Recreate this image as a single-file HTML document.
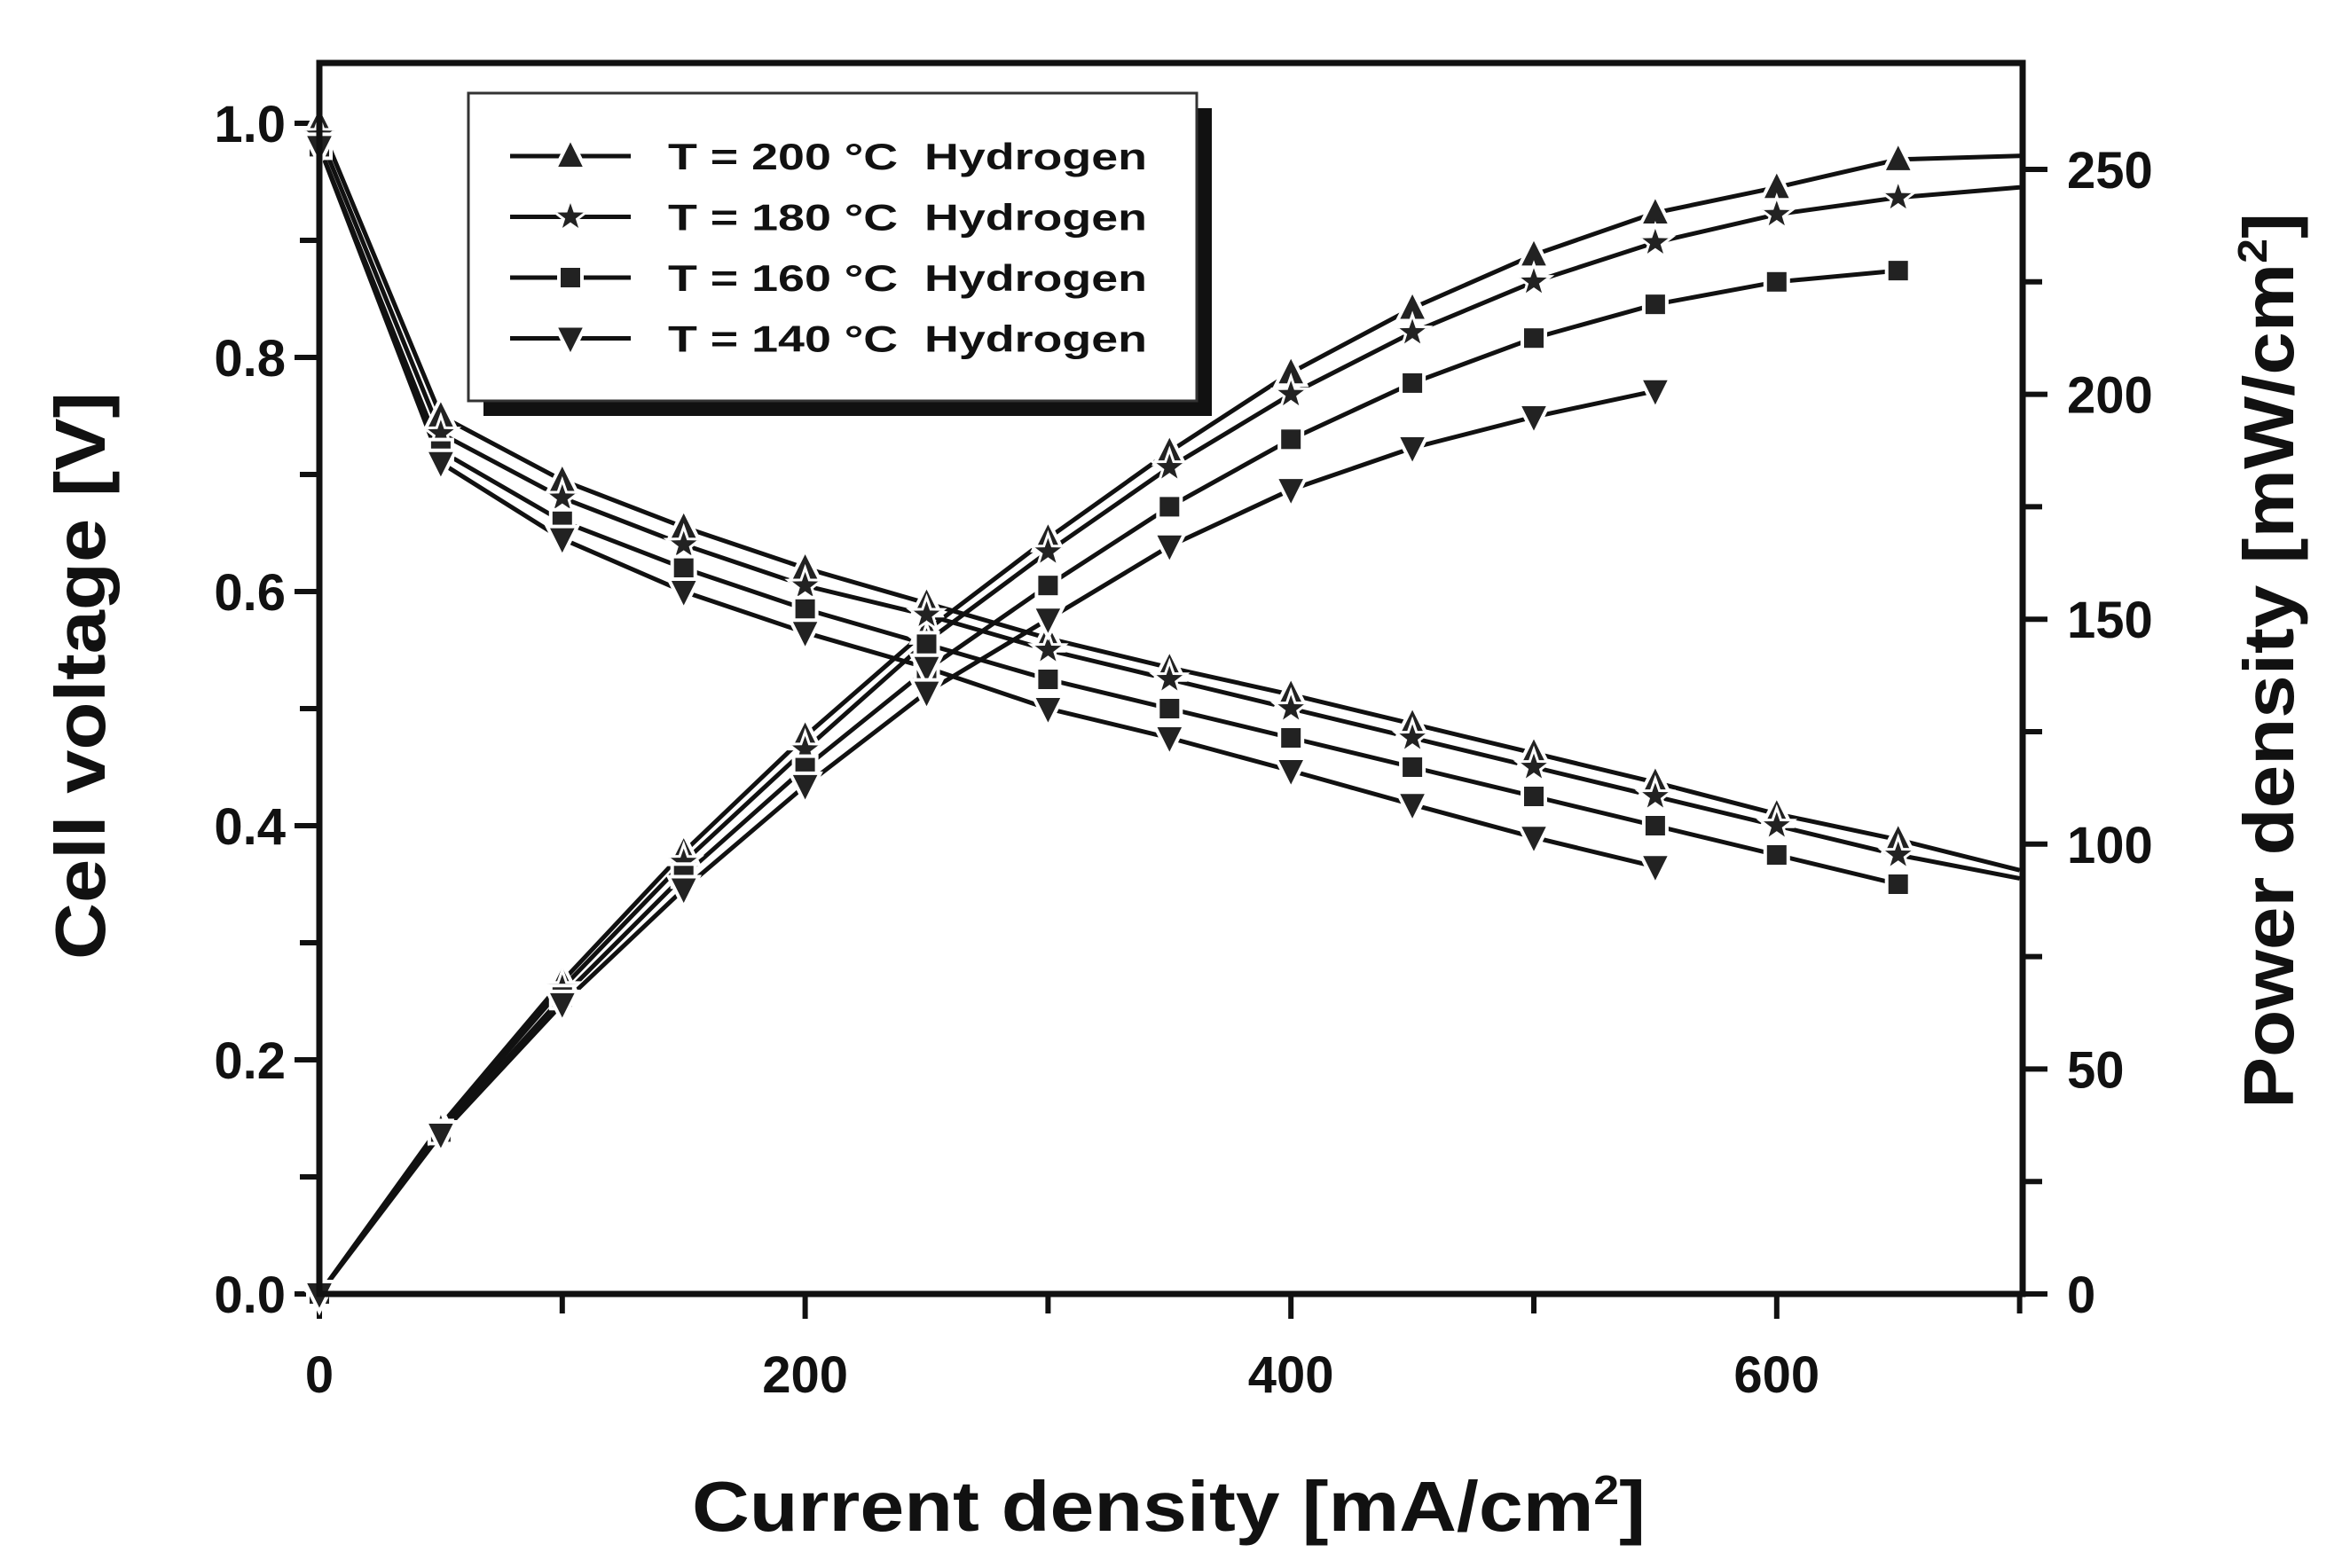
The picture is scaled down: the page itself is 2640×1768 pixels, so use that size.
<!DOCTYPE html>
<html><head><meta charset="utf-8"><style>
html,body{margin:0;padding:0;background:#fff;}
svg{display:block;}
text{font-family:"Liberation Sans",Arial,sans-serif;font-weight:bold;fill:#111;}
</style></head><body>
<svg id="s" width="2640" height="1768" viewBox="0 0 2640 1768" xmlns="http://www.w3.org/2000/svg"></svg>
<script>
var s=document.getElementById('s');
var L=360,R=2280,T=71,B=1459;
function X(i){return L+i*2.738;}
function YV(v){return B-v*1320;}
function YP(p){return B-p*5.072;}
var h='';
h+='<rect x="0" y="0" width="2640" height="1768" fill="#fff"/>';
for(var i=0;i<=700;i+=100){var x=X(i);h+='<line x1="'+x+'" y1="'+B+'" x2="'+x+'" y2="'+(B+(i%200==0?28:22))+'" stroke="#111" stroke-width="6"/>';
 if(i%200==0&&i<=600)h+='<text x="'+x+'" y="1570" font-size="58" text-anchor="middle">'+i+'</text>';}
for(var k=0;k<=10;k++){var v=k*0.1,y=YV(v);h+='<line x1="'+(L-(k%2==0?28:22))+'" y1="'+y+'" x2="'+L+'" y2="'+y+'" stroke="#111" stroke-width="6"/>';
 if(k%2==0)h+='<text x="322" y="'+(y+21)+'" font-size="58" text-anchor="end">'+v.toFixed(1)+'</text>';}
for(var p=0;p<=270;p+=25){var y=YP(p);h+='<line x1="'+R+'" y1="'+y+'" x2="'+(R+(p%50==0?28:22))+'" y2="'+y+'" stroke="#111" stroke-width="6"/>';
 if(p%50==0)h+='<text x="2330" y="'+(y+21)+'" font-size="58">'+p+'</text>';}
h+='<text transform="translate(118,762) rotate(-90)" font-size="80" text-anchor="middle" textLength="640" lengthAdjust="spacingAndGlyphs">Cell voltage [V]</text>';
h+='<text transform="translate(2585,745) rotate(-90)" font-size="80" text-anchor="middle" textLength="1010" lengthAdjust="spacingAndGlyphs">Power density [mW/cm<tspan dy="-30" font-size="46">2</tspan><tspan dy="30">]</tspan></text>';
h+='<text x="780" y="1726" font-size="80" textLength="1075" lengthAdjust="spacingAndGlyphs">Current density [mA/cm<tspan dy="-30" font-size="46">2</tspan><tspan dy="30">]</tspan></text>';
var data={
 tri:[1.0,0.75,0.695,0.655,0.62,0.59,0.56,0.535,0.512,0.487,0.462,0.437,0.41,0.388,0.362],
 star:[0.99,0.735,0.68,0.64,0.605,0.58,0.55,0.525,0.5,0.475,0.45,0.425,0.40,0.375,0.355],
 sq:[0.98,0.72,0.66,0.62,0.585,0.555,0.525,0.5,0.475,0.45,0.425,0.40,0.375,0.35],
 inv:[0.98,0.71,0.645,0.6,0.565,0.535,0.5,0.475,0.447,0.418,0.39,0.365]
};
var pOver={tri:{14:253},star:{14:246}};
function mk(t,x,y){var r=17;
 if(t=='tri')return '<polygon points="'+x+','+(y-r-3)+' '+(x+r)+','+(y+r-3)+' '+(x-r)+','+(y+r-3)+'" fill="#222" stroke="#fff" stroke-width="4"/>';
 if(t=='inv')return '<polygon points="'+x+','+(y+r+3)+' '+(x+r)+','+(y-r+3)+' '+(x-r)+','+(y-r+3)+'" fill="#222" stroke="#fff" stroke-width="4"/>';
 if(t=='sq')return '<rect x="'+(x-13)+'" y="'+(y-13)+'" width="26" height="26" fill="#222" stroke="#fff" stroke-width="4"/>';
 var pts=[];for(var j=0;j<10;j++){var a=-Math.PI/2+j*Math.PI/5,rr=j%2?8:20;pts.push((x+rr*Math.cos(a)).toFixed(1)+','+(y+rr*Math.sin(a)).toFixed(1));}
 return '<polygon points="'+pts.join(' ')+'" fill="#222" stroke="#fff" stroke-width="3"/>';}
var lines='',marks='';
for(var t in data){var d=data[t],pv=[],pp=[];
 for(var j=0;j<d.length;j++){var I=j*50;var P=(pOver[t]&&pOver[t][j])?pOver[t][j]:d[j]*I;
  pv.push(X(I).toFixed(1)+','+YV(d[j]).toFixed(1));pp.push(X(I).toFixed(1)+','+YP(P).toFixed(1));
  if(j<14){marks+=mk(t,X(I),YV(d[j]));marks+=mk(t,X(I),YP(P));}}
 lines+='<polyline points="'+pv.join(' ')+'" fill="none" stroke="#111" stroke-width="5"/>';
 lines+='<polyline points="'+pp.join(' ')+'" fill="none" stroke="#111" stroke-width="5"/>';}
h+=lines+marks;
h+='<rect x="'+L+'" y="'+T+'" width="'+(R-L)+'" height="'+(B-T)+'" fill="none" stroke="#111" stroke-width="7"/>';
h+='<rect x="545" y="122" width="821" height="347" fill="#111"/>';
h+='<rect x="528" y="105" width="821" height="347" fill="#fff" stroke="#333" stroke-width="3"/>';
var names=['T = 200 °C  Hydrogen','T = 180 °C  Hydrogen','T = 160 °C  Hydrogen','T = 140 °C  Hydrogen'],ts=['tri','star','sq','inv'];
for(var k=0;k<4;k++){var y=176+k*68.5;
 h+='<line x1="575" y1="'+y+'" x2="711" y2="'+y+'" stroke="#111" stroke-width="5"/>'+mk(ts[k],643,y);
 h+='<text x="753" y="'+(y+15)+'" font-size="42" textLength="540" lengthAdjust="spacingAndGlyphs" xml:space="preserve">'+names[k]+'</text>';}
s.innerHTML=h;
</script>
</body></html>
